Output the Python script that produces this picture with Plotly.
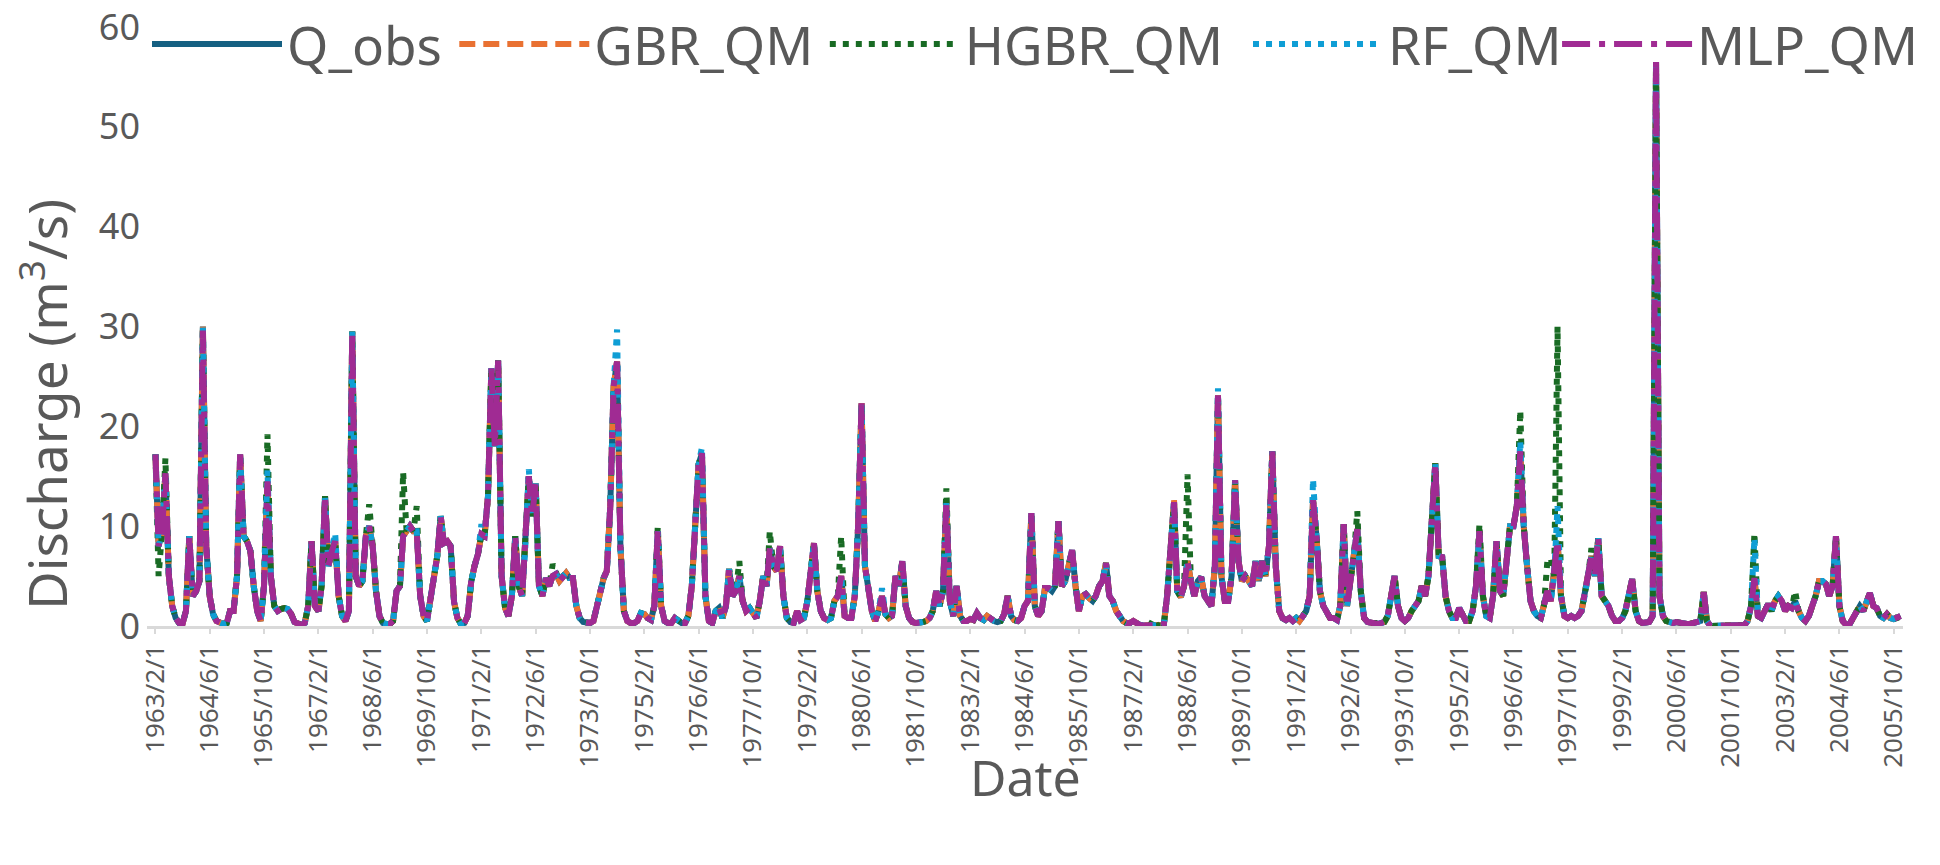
import pandas as pd
import plotly.graph_objs as go

# Monthly discharge (m3/s), first value is 1963/2, one row per year
q_obs = [
    17.2, 8.0, 9.5, 15.3, 5.0, 2.0, 0.8, 0.3, 0.2, 1.5, 9.0,            # 1963 (Feb-Dec)
    3.0, 3.5, 4.5, 30.0, 8.0, 3.0, 1.2, 0.5, 0.3, 0.2, 0.3, 1.5,       # 1964
    1.5, 5.0, 17.2, 9.0, 8.5, 7.5, 4.0, 1.5, 0.5, 4.0, 14.5, 5.0,      # 1965
    2.0, 1.5, 1.7, 1.8, 1.7, 1.2, 0.4, 0.2, 0.1, 0.3, 2.0, 8.5,        # 1966
    2.0, 1.5, 4.0, 13.0, 6.0, 7.5, 8.5, 3.0, 1.0, 0.5, 1.5, 29.5,      # 1967
    5.0, 4.0, 4.5, 9.0, 10.0, 8.0, 3.5, 1.0, 0.3, 0.2, 0.2, 0.5,       # 1968
    3.5, 4.0, 9.0, 9.5, 10.0, 9.5, 9.5, 3.0, 1.0, 0.5, 3.0, 5.0,       # 1969
    7.0, 11.0, 8.3, 8.5, 8.0, 2.4, 0.8, 0.2, 0.3, 1.0, 4.4, 6.0,       # 1970
    7.2, 9.2, 9.0, 13.0, 25.8, 18.0, 26.6, 5.0, 1.8, 1.0, 3.0, 9.0,    # 1971
    4.0, 3.0, 8.0, 15.0, 11.0, 14.3, 4.0, 3.0, 4.8, 4.0, 5.0, 5.2,     # 1972
    4.5, 5.0, 5.3, 4.8, 4.8, 2.0, 0.8, 0.4, 0.3, 0.3, 0.5, 2.0,        # 1973
    3.5, 4.8, 5.5, 12.0, 24.0, 26.5, 8.0, 1.5, 0.5, 0.3, 0.3, 0.5,     # 1974
    1.3, 1.2, 0.8, 0.6, 2.0, 9.5, 2.0, 0.5, 0.3, 0.3, 0.8, 0.5,        # 1975
    0.3, 0.3, 1.0, 4.0, 10.0, 16.2, 17.3, 3.0, 0.5, 0.3, 1.5, 1.8,     # 1976
    0.8, 2.0, 5.7, 3.0, 3.5, 5.0, 2.5, 1.5, 1.8, 1.2, 0.8, 2.5,        # 1977
    5.0, 4.0, 7.8, 6.0, 5.5, 8.0, 3.0, 0.8, 0.4, 0.3, 1.5, 0.6,        # 1978
    0.8, 2.5, 5.0, 8.3, 3.5, 1.5, 0.8, 0.6, 0.8, 2.5, 3.0, 5.0,        # 1979
    1.0, 0.8, 0.8, 3.0, 10.0, 22.3, 6.0, 3.5, 1.5, 0.5, 1.5, 3.0,      # 1980
    1.2, 0.8, 1.0, 5.0, 4.0, 6.5, 2.0, 0.8, 0.4, 0.3, 0.3, 0.4,        # 1981
    0.5, 0.8, 1.5, 3.5, 2.0, 3.5, 12.3, 2.5, 1.0, 4.0, 1.0, 0.5,       # 1982
    0.5, 0.7, 0.6, 1.3, 0.8, 0.6, 1.0, 0.7, 0.5, 0.4, 0.5, 1.2,        # 1983
    3.0, 1.0, 0.6, 0.5, 0.8, 2.0, 2.5, 11.3, 2.0, 1.0, 1.5, 3.8,       # 1984
    3.8, 3.5, 4.0, 10.5, 4.0, 4.5, 6.0, 7.6, 4.0, 1.5, 3.0, 3.2,       # 1985
    2.8, 2.5, 3.0, 4.0, 4.5, 6.3, 3.0, 2.5, 1.5, 1.0, 0.5, 0.3,        # 1986
    0.3, 0.5, 0.3, 0.1, 0.05, 0.05, 0.05, 0.05, 0.05, 0.05, 0.1, 3.0,  # 1987
    8.5, 12.4, 3.5, 2.9, 4.0, 6.5, 4.5, 3.0, 4.5, 4.9, 3.0, 2.5,       # 1988
    2.0, 6.0, 23.1, 5.0, 2.5, 2.5, 5.0, 14.6, 6.5, 4.5, 5.0, 4.5,      # 1989
    4.0, 6.5, 4.5, 6.5, 5.0, 8.0, 17.5, 6.0, 1.5, 0.8, 0.6, 0.8,       # 1990
    0.5, 0.8, 0.5, 1.0, 1.5, 3.0, 12.6, 9.0, 3.5, 2.0, 1.5, 0.8,       # 1991
    0.8, 0.6, 2.0, 10.2, 2.0, 5.0, 7.0, 9.7, 3.5, 0.8, 0.4, 0.3,       # 1992
    0.3, 0.2, 0.3, 0.4, 1.0, 3.0, 5.0, 2.0, 0.8, 0.5, 0.8, 1.5,        # 1993
    2.0, 2.5, 4.0, 3.0, 5.0, 11.0, 16.3, 7.0, 6.9, 3.0, 1.5, 0.8,      # 1994
    0.8, 1.8, 1.0, 0.5, 0.5, 1.5, 4.0, 9.5, 3.0, 1.0, 0.8, 3.0,        # 1995
    8.5, 3.5, 3.0, 6.0, 10.0, 10.0, 12.0, 17.5, 10.0, 6.0, 2.5, 1.5,   # 1996
    1.0, 0.8, 2.0, 3.5, 2.5, 5.0, 8.5, 3.0, 1.0, 0.8, 1.0, 0.8,        # 1997
    1.0, 1.5, 3.0, 5.0, 7.0, 5.0, 8.8, 3.0, 2.5, 2.0, 1.0, 0.5,        # 1998
    0.5, 0.8, 1.5, 3.0, 4.7, 1.5, 0.5, 0.3, 0.3, 0.4, 1.0, 56.5,       # 1999
    3.0, 1.0, 0.5, 0.4, 0.3, 0.4, 0.3, 0.2, 0.2, 0.2, 0.3, 0.5,        # 2000
    0.5, 3.4, 0.5, 0.0, 0.0, 0.0, 0.0, 0.0, 0.0, 0.0, 0.0, 0.0,        # 2001
    0.0, 0.1, 0.5, 2.0, 4.8, 1.0, 0.8, 1.5, 2.2, 1.5, 2.5, 3.0,        # 2002
    2.5, 1.5, 2.0, 1.8, 2.5, 1.5, 0.8, 0.5, 1.0, 2.0, 3.0, 4.5,        # 2003
    4.5, 4.2, 3.0, 4.0, 9.0, 2.0, 0.5, 0.1, 0.2, 0.8, 1.5, 2.0,        # 2004
    1.5, 2.5, 3.3, 2.0, 1.8, 1.0, 0.8, 1.2, 0.8, 0.7, 0.8, 1.0,        # 2005
]

# The QM-corrected model series follow Q_obs closely; these are the
# months where they visibly depart from it
gbr_qm = {"1964-04": 30.2, "1988-02": 12.6}
hgbr_qm = {
    "1963-03": 5.0, "1963-05": 16.8, "1965-11": 19.2, "1968-05": 12.2,
    "1969-03": 15.4, "1969-07": 12.0, "1972-11": 6.2, "1975-06": 10.0,
    "1977-06": 6.5, "1978-03": 9.5, "1979-12": 9.0, "1982-07": 13.8,
    "1987-08": 0.7, "1988-06": 15.2, "1992-08": 11.5, "1995-08": 10.2,
    "1996-08": 21.6, "1997-04": 6.5, "1997-05": 6.8, "1997-07": 30.0,
    "1998-05": 7.8, "2002-05": 9.3, "2003-05": 3.5, "2005-12": 1.7,
}
rf_qm = {
    "1965-11": 15.6, "1967-07": 9.3, "1971-02": 10.2, "1972-04": 15.7,
    "1974-06": 29.7, "1976-07": 17.9, "1980-12": 3.8, "1989-03": 23.8,
    "1991-07": 14.7, "1996-08": 18.5, "1997-07": 12.0, "2002-05": 8.8,
}
mlp_qm = {"1964-04": 29.6}

tick_labels = [
    "1963/2/1", "1964/6/1", "1965/10/1", "1967/2/1", "1968/6/1", "1969/10/1",
    "1971/2/1", "1972/6/1", "1973/10/1", "1975/2/1", "1976/6/1", "1977/10/1",
    "1979/2/1", "1980/6/1", "1981/10/1", "1983/2/1", "1984/6/1", "1985/10/1",
    "1987/2/1", "1988/6/1", "1989/10/1", "1991/2/1", "1992/6/1", "1993/10/1",
    "1995/2/1", "1996/6/1", "1997/10/1", "1999/2/1", "2000/6/1", "2001/10/1",
    "2003/2/1", "2004/6/1", "2005/10/1",
]

months = pd.date_range("1963-02-01", periods=len(q_obs), freq="MS")
obs = pd.Series(q_obs, index=months)


def model_series(diffs):
    s = obs.copy()
    for k, v in diffs.items():
        s[pd.Timestamp(k + "-01")] = v
    return s


grey = "#595959"
font_family = "Noto Sans"

# name, values, colour, dash, legend id, legend x (paper)
series = [
    ("Q_obs", obs, "#156082", "solid", "legend", 0.0),
    ("GBR_QM", model_series(gbr_qm), "#E97132", "16px,8px", "legend2", 0.175),
    ("HGBR_QM", model_series(hgbr_qm), "#196B24", "6px,7px", "legend3", 0.386),
    ("RF_QM", model_series(rf_qm), "#0F9ED5", "6px,7px", "legend4", 0.627),
    ("MLP_QM", model_series(mlp_qm), "#A02B93", "28px,9px,6px,9px", "legend5", 0.803),
]

fig = go.Figure()
legends = {}
for name, s, color, dash, leg, lx in series:
    fig.add_trace(
        go.Scatter(
            x=s.index,
            y=s.values,
            mode="lines",
            name=name,
            legend=leg,
            line=dict(color=color, width=6, dash=dash),
        )
    )
    legends[leg] = dict(
        orientation="h",
        x=lx,
        xanchor="left",
        y=0.9716,
        yanchor="middle",
        font=dict(size=53, color=grey),
        itemwidth=130,
        bgcolor="rgba(0,0,0,0)",
    )

fig.update_layout(
    width=1940,
    height=865,
    margin=dict(l=147, r=37, t=27, b=239, autoexpand=False),
    paper_bgcolor="white",
    plot_bgcolor="white",
    font=dict(family=font_family, color=grey),
    showlegend=True,
    xaxis=dict(
        type="date",
        range=["1962-11-17", "2005-12-23"],
        tickvals=[pd.to_datetime(t, format="%Y/%m/%d") for t in tick_labels],
        ticktext=tick_labels,
        tickangle=-90,
        tickfont=dict(size=26, color=grey),
        showgrid=False,
        zeroline=False,
        showline=True,
        linecolor="#D9D9D9",
        linewidth=3,
        ticks="outside",
        ticklen=5,
        tickwidth=2,
        tickcolor="#D9D9D9",
        automargin=False,
    ),
    yaxis=dict(
        range=[0, 60],
        dtick=10,
        tickfont=dict(size=36, color=grey),
        ticklabelstandoff=6,
        showgrid=False,
        zeroline=False,
        showline=False,
        ticks="",
        automargin=False,
    ),
    annotations=[
        dict(text="Date", xref="paper", yref="paper", x=0.5, y=-0.252,
             xanchor="center", yanchor="middle", showarrow=False,
             font=dict(size=50, color=grey)),
        dict(text="Discharge (m<sup>3</sup>/s)", xref="paper", yref="paper",
             x=-0.0587, y=0.3706, xanchor="center", yanchor="middle",
             textangle=-90, showarrow=False, font=dict(size=53, color=grey)),
    ],
    **legends,
)

fig.write_html(
    "out.html",
    config={"displayModeBar": False},
    post_script="document.body.style.margin = '0';",
)
